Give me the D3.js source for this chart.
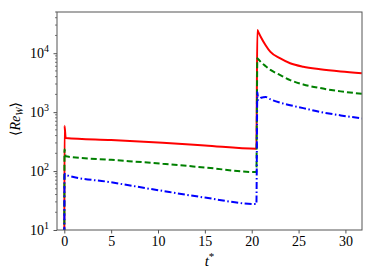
<!DOCTYPE html>
<html>
<head>
<meta charset="utf-8">
<script src="https://cdn.jsdelivr.net/npm/d3@7"></script>
<style>
  body { margin: 0; background: #fff; }
  text { font-family: "Liberation Serif", "DejaVu Serif", serif; }
</style>
</head>
<body>
<script>
// time samples shared by the three series
const tStar = [0, 0.02, 0.15, 5, 10.5, 15, 20.5, 20.6, 20.7, 21.0, 21.5, 22, 23, 24.1, 25.5, 27.3, 29.5, 31.75]
const red   = [3, 590, 363, 335, 302, 272, 239, 24800, 23000, 18500, 13500, 10500, 8220, 6760, 5900, 5350, 4900, 4560]
const green = [3, 235, 178, 155, 133, 115, 96, 8200, 7900, 7000, 6000, 5210, 4290, 3500, 2950, 2560, 2250, 2050]
const blue  = [3, 90, 86, 64.5, 46, 35.5, 27.5, 2200, 1600, 1750, 1800, 1650, 1450, 1310, 1170, 1010, 880, 782]
const xTicks = [0, 5, 10, 15, 20, 25, 30]
const yTicks = [10, 100, 1000, 10000]

const series = [
  { values: red,   color: '#ff0000', dash: null },
  { values: green, color: '#008000', dash: '6,3' },
  { values: blue,  color: '#0000ff', dash: '7,2.5,1.5,2.5' }
]

const margin = { top: 12, right: 12, bottom: 50, left: 57 }
const width = 374 - margin.left - margin.right
const height = 280 - margin.top - margin.bottom

const x = d3.scaleLinear()
  .domain([-0.78, 31.77])
  .range([0, width])

const y = d3.scaleLog()
  .domain([10, 50000])
  .range([height, 0])

const svg = d3.select('body').append('svg')
    .attr('width', 374)
    .attr('height', 280)
  .append('g')
    .attr('transform', `translate(${margin.left},${margin.top})`)

svg.append('clipPath').attr('id', 'clip')
  .append('rect').attr('width', width).attr('height', height)

const line = d3.line()
  .x((d, i) => x(tStar[i]))
  .y(d => y(d))
  .curve(d3.curveMonotoneX)

svg.append('g').attr('clip-path', 'url(#clip)')
  .selectAll('path')
  .data(series)
  .enter().append('path')
    .attr('d', d => line(d.values))
    .attr('fill', 'none')
    .attr('stroke', d => d.color)
    .attr('stroke-width', 2)
    .attr('stroke-dasharray', d => d.dash)

// x axis
const xAxis = svg.append('g')
  .attr('transform', `translate(0,${height})`)
  .call(d3.axisBottom(x).tickValues(xTicks).tickSize(3.5).tickPadding(3).tickFormat(d3.format('d')))
xAxis.select('.domain').remove()
xAxis.selectAll('line').attr('stroke', '#555')
xAxis.selectAll('text').attr('font-size', 14).attr('fill', '#000')

// y axis, major ticks with superscript labels
const yAxis = svg.append('g')
  .call(d3.axisLeft(y).tickValues(yTicks).tickSize(3.5).tickPadding(3).tickFormat(''))
yAxis.select('.domain').remove()
yAxis.selectAll('line').attr('stroke', '#555')

const minor = []
for (let e = 1; e <= 4; e++) {
  for (let m = 2; m <= 9; m++) {
    const v = m * Math.pow(10, e)
    if (v <= 50000) minor.push(v)
  }
}
svg.append('g').selectAll('line')
  .data(minor)
  .enter().append('line')
    .attr('x1', -2).attr('x2', 0)
    .attr('y1', d => y(d)).attr('y2', d => y(d))
    .attr('stroke', '#555').attr('stroke-width', 0.8)

const yl = svg.append('g').selectAll('text')
  .data(yTicks)
  .enter().append('text')
    .attr('x', -8)
    .attr('y', d => y(d) + 5)
    .attr('text-anchor', 'end')
    .attr('font-size', 14)
yl.append('tspan').text('10')
yl.append('tspan')
  .attr('dy', -6)
  .attr('font-size', 10)
  .text(d => Math.round(Math.log10(d)))

// frame
svg.append('rect')
  .attr('width', width).attr('height', height)
  .attr('fill', 'none').attr('stroke', '#555').attr('stroke-width', 1)

// labels
svg.append('text')
  .attr('x', width / 2)
  .attr('y', height + 36)
  .attr('text-anchor', 'middle')
  .attr('font-size', 15)
  .html('<tspan font-style="italic">t</tspan><tspan dy="-6" font-size="11">*</tspan>')

svg.append('text')
  .attr('transform', `translate(${-37},${height / 2 - 2}) rotate(-90)`)
  .attr('text-anchor', 'middle')
  .attr('font-size', 14)
  .html('⟨<tspan font-style="italic">Re</tspan><tspan font-style="italic" font-size="10" dy="3">W</tspan><tspan dy="-3">⟩</tspan>')
</script>
</body>
</html>
